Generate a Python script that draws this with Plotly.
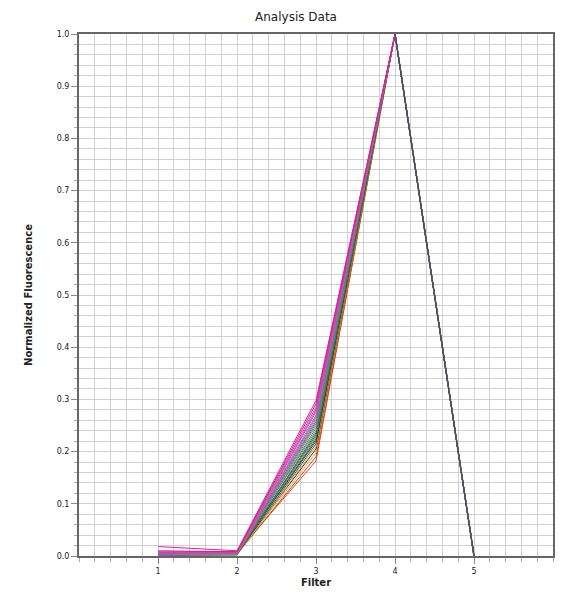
import plotly.graph_objects as go

filters = [1, 2, 3, 4, 5]
f1 = [0.018, 0.010, 0.008, 0.006, 0.004, 0.003, 0.002, 0.005, 0.007, 0.004, 0.003, 0.002, 0.006, 0.001, 0.003, 0.004, 0.002, 0.005, 0.003, 0.001, 0.004, 0.002, 0.003, 0.006]
f2 = [0.010, 0.008, 0.009, 0.007, 0.006, 0.005, 0.004, 0.008, 0.006, 0.005, 0.004, 0.003, 0.007, 0.002, 0.005, 0.006, 0.004, 0.006, 0.003, 0.002, 0.005, 0.004, 0.003, 0.007]
f3 = [0.298, 0.292, 0.285, 0.280, 0.276, 0.270, 0.266, 0.262, 0.258, 0.254, 0.250, 0.245, 0.240, 0.236, 0.232, 0.228, 0.224, 0.220, 0.215, 0.210, 0.205, 0.198, 0.190, 0.182]
f4 = [1.0] * 24
f5 = [0.0] * 24
colors = ["#e0208e", "#d02090", "#c83cb4", "#e040a0", "#b050c0", "#9070c0", "#c060a0", "#8080a0",
          "#6a6aa8", "#a06080", "#7a8c6a", "#5a7a8a", "#40a070", "#4a6a4a", "#2f6f2f", "#708030",
          "#2e4e6e", "#303060", "#405050", "#c0c030", "#602020", "#e0a030", "#c04020", "#e04030"]

fig = go.Figure()
for i in reversed(range(len(f3))):
    fig.add_trace(go.Scatter(x=filters, y=[f1[i], f2[i], f3[i], f4[i], f5[i]], mode="lines",
                             line=dict(color=colors[i], width=1), showlegend=False))
fig.add_trace(go.Scatter(x=[4, 5], y=[1.0, 0.0], mode="lines",
                         line=dict(color="#3a5a5a", width=1.5), showlegend=False))

fig.update_layout(
    width=576, height=600, paper_bgcolor="white", plot_bgcolor="white",
    margin=dict(l=71, r=31, t=26, b=52),
    title=dict(text="Analysis Data", x=0.5, y=0.992, yanchor="top",
               font=dict(family="DejaVu Sans", size=12, color="#222")),
    font=dict(family="DejaVu Sans", size=8, color="#222"),
)
fig.update_xaxes(range=[0, 6], tickvals=filters, ticks="outside", ticklen=6, tickcolor="#888",
                 showgrid=False, zeroline=False, showline=True, linecolor="#666", linewidth=2, mirror=True,
                 minor=dict(dtick=0.2, showgrid=True, gridcolor="#d0d0d0", gridwidth=1, ticks="outside", ticklen=4, tickcolor="#aaa"),
                 title=dict(text="<b>Filter</b>", font=dict(size=10), standoff=4))
fig.update_yaxes(range=[0, 1], dtick=0.1, tickformat=".1f", ticks="outside", ticklen=6, tickcolor="#888",
                 showgrid=True, gridcolor="#d0d0d0", zeroline=False, showline=True, linecolor="#666", linewidth=2, mirror=True,
                 minor=dict(dtick=0.02, showgrid=True, gridcolor="#d0d0d0", gridwidth=1, ticks="outside", ticklen=3, tickcolor="#aaa"),
                 title=dict(text="<b>Normalized Fluorescence</b>", font=dict(size=10), standoff=22))
fig.write_html("out.html")
